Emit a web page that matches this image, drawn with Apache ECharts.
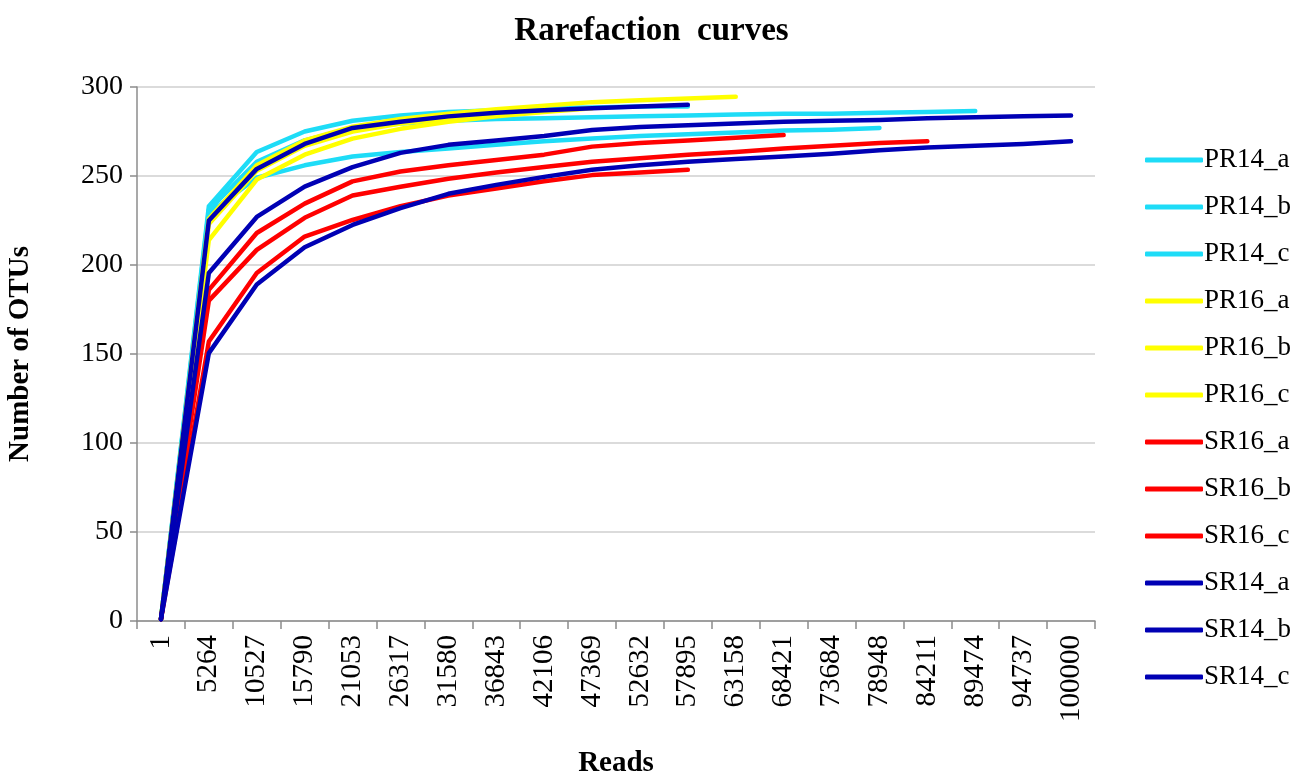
<!DOCTYPE html>
<html>
<head>
<meta charset="utf-8">
<title>Rarefaction curves</title>
<script src="https://cdn.jsdelivr.net/npm/echarts@6/dist/echarts.min.js"></script>
<style>
  html, body { margin: 0; padding: 0; background: #fff; }
  #rarefactionChart { width: 1303px; height: 776px; }
</style>
</head>
<body>
<div id="rarefactionChart"></div>
<script>
// x categories (reads)
var readsCategories = ['1', '5264', '10527', '15790', '21053', '26317', '31580', '36843', '42106', '47369',
  '52632', '57895', '63158', '68421', '73684', '78948', '84211', '89474', '94737', '100000'];
var yTicks = [0, 50, 100, 150, 200, 250, 300];

var seriesNames = ['PR14_a', 'PR14_b', 'PR14_c', 'PR16_a', 'PR16_b', 'PR16_c',
  'SR16_a', 'SR16_b', 'SR16_c', 'SR14_a', 'SR14_b', 'SR14_c'];

// number of OTUs
var pr14a = [1, 233, 263.5, 275, 281, 284, 286, 287, 288, 288.5, 289, 289];
var pr14b = [1, 231, 258, 270, 277, 279.5, 281, 282, 282.5, 283, 283.5, 284, 284.5, 285, 285, 285.5, 286, 286.5];
var pr14c = [1, 229, 249, 256, 261, 263.5, 265.5, 267.5, 269.5, 271, 272.5, 273.5, 274.5, 275.5, 276, 277];
var pr16a = [1, 226, 256, 270, 277.7, 282, 285, 287.5, 289.5, 291.5, 292.5, 293.5, 294.5];
var pr16b = [1, 214, 248, 262, 271, 276.5, 280.5, 283.5, 286, 288];
var pr16c = [1, 223, 253, 267, 275, 279.5, 282.5, 284.5];
var sr16a = [1, 186, 218, 234.5, 247, 252.5, 256, 259, 262, 266.5, 268.5, 270, 271.5, 273];
var sr16b = [1, 180, 208.5, 226.5, 239, 244, 248.5, 252, 255, 258, 260, 262, 263.5, 265.5, 267, 268.5, 269.5];
var sr16c = [1, 157, 195.5, 216, 225.3, 233, 239, 243, 247, 250.5, 252, 253.5];
var sr14a = [1, 225, 254, 268, 277, 280.5, 283.5, 285.5, 287, 288, 289, 290];
var sr14b = [1, 195.5, 227, 244, 255, 263, 267.5, 270, 272.5, 275.8, 277.5, 278.5, 279.5, 280.5, 281, 281.5, 282.5, 283, 283.5, 284];
var sr14c = [1, 150.5, 189, 210, 222.5, 232, 240, 245, 249.5, 253.5, 256, 258, 259.5, 261, 262.5, 264.5, 266, 267, 268, 269.5];

var seriesData = [pr14a, pr14b, pr14c, pr16a, pr16b, pr16c, sr16a, sr16b, sr16c, sr14a, sr14b, sr14c];
var seriesColors = ['#1EDCF7', '#1EDCF7', '#1EDCF7', '#FFFF00', '#FFFF00', '#FFFF00',
  '#FF0000', '#FF0000', '#FF0000', '#0000B4', '#0000B4', '#0000B4'];

var chart = echarts.init(document.getElementById('rarefactionChart'));
var serifFont = '"Liberation Serif", "Times New Roman", serif';

var buildSeries = function() {
  var list = [];
  for (var i = 0; i < seriesNames.length; i++) {
    list.push({
      name: seriesNames[i],
      type: 'line',
      data: seriesData[i],
      symbol: 'none',
      silent: true,
      color: seriesColors[i],
      lineStyle: { width: 4.5, color: seriesColors[i], cap: 'round', join: 'round' }
    });
  }
  return list;
};

var renderOption = function() {
  return {
    animation: false,
    title: {
      text: 'Rarefaction  curves',
      left: 'center',
      top: 10,
      textStyle: { fontFamily: serifFont, fontSize: 33, fontWeight: 'bold', color: '#000' }
    },
    legend: {
      orient: 'vertical',
      left: 1140,
      top: 140,
      icon: 'roundRect',
      itemWidth: 58,
      itemHeight: 5,
      itemGap: 17,
      data: seriesNames,
      textStyle: { fontFamily: serifFont, fontSize: 27, color: '#000', lineHeight: 30, padding: [0, 0, 0, -4] }
    },
    grid: {
      left: 137,
      right: 208,
      top: 87,
      bottom: 155,
      outerBoundsMode: 'none'
    },
    xAxis: [{
      type: 'category',
      data: readsCategories,
      boundaryGap: true,
      name: 'Reads',
      nameLocation: 'middle',
      nameGap: 128,
      nameTextStyle: { fontFamily: serifFont, fontSize: 29, fontWeight: 'bold', color: '#000' },
      axisLine: { lineStyle: { color: '#8c8c8c', width: 1.5 } },
      axisTick: { show: true, length: 8, lineStyle: { color: '#8c8c8c', width: 1.5 } },
      axisLabel: {
        rotate: 90,
        interval: 0,
        margin: 14,
        fontFamily: serifFont,
        fontSize: 29,
        color: '#000'
      },
      splitLine: { show: false }
    }],
    yAxis: [{
      type: 'value',
      min: yTicks[0],
      max: yTicks[yTicks.length - 1],
      interval: 50,
      name: 'Number of OTUs',
      nameLocation: 'middle',
      nameGap: 102,
      nameTextStyle: { fontFamily: serifFont, fontSize: 29, fontWeight: 'bold', color: '#000' },
      axisLine: { show: true, lineStyle: { color: '#8c8c8c', width: 1.5 } },
      axisTick: { show: true, length: 7, lineStyle: { color: '#8c8c8c', width: 1.5 } },
      axisLabel: { margin: 14, fontFamily: serifFont, fontSize: 28, color: '#000' },
      splitLine: { show: true, lineStyle: { color: '#cfcfcf', width: 1.5 } }
    }],
    series: buildSeries()
  };
};

chart.setOption(renderOption(), { notMerge: true });
</script>
</body>
</html>
